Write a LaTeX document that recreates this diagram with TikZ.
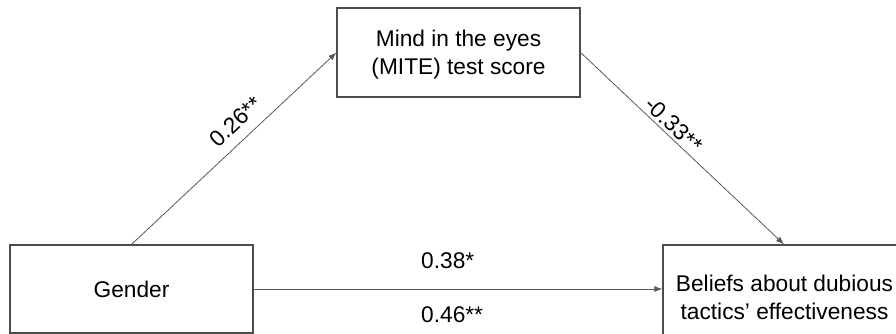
\documentclass[tikz,border=0pt]{standalone}
\usepackage{fontspec}
\setmainfont{Liberation Sans}
\usetikzlibrary{arrows.meta}
\begin{document}
\begin{tikzpicture}[x=1pt,y=-1pt,
  boxx/.style={draw=black!70, line width=1.2pt, rectangle, inner sep=0pt},
  txt/.style={font=\fontsize{22.7}{27.5}\selectfont, align=center, inner sep=0pt},
  arr/.style={draw=black!65, line width=0.8pt, -{Latex[length=8pt,width=6pt]}},
  lbl/.style={font=\fontsize{22.7}{27.5}\selectfont, inner sep=0pt}]
\useasboundingbox (0,0) rectangle (896,333);
\clip (0,0) rectangle (896,333);
% boxes
\node[boxx, minimum width=243pt, minimum height=88pt] (g) at (131.5,289) {};
\node[boxx, minimum width=243pt, minimum height=89pt] (m) at (458.5,52.5) {};
\node[boxx, minimum width=242pt, minimum height=104pt] (b) at (784,297) {};
% texts
\node[txt] (gt) at (131.5,289) {Gender};
\node[txt] (mt) at (458.5,54.5) {Mind in the eyes\\(MITE) test score};
\node[txt] (bt) at (784.5,297.5) {Beliefs about dubious\\tactics' effectiveness};
% connectors
\draw[arr] (g.north) -- node[lbl, sloped, pos=0.57, above=10pt] (l1) {0.26**} (m.west);
\draw[arr] (m.east) -- node[lbl, sloped, pos=0.42, above=3pt] (l2) {-0.33**} (b.north);
\draw[arr] (g.east) -- (g.east -| b.west);
\node[lbl, anchor=west] (l3) at (421,261) {0.38*};
\node[lbl, anchor=west] (l4) at (421,315) {0.46**};
\end{tikzpicture}
\end{document}
